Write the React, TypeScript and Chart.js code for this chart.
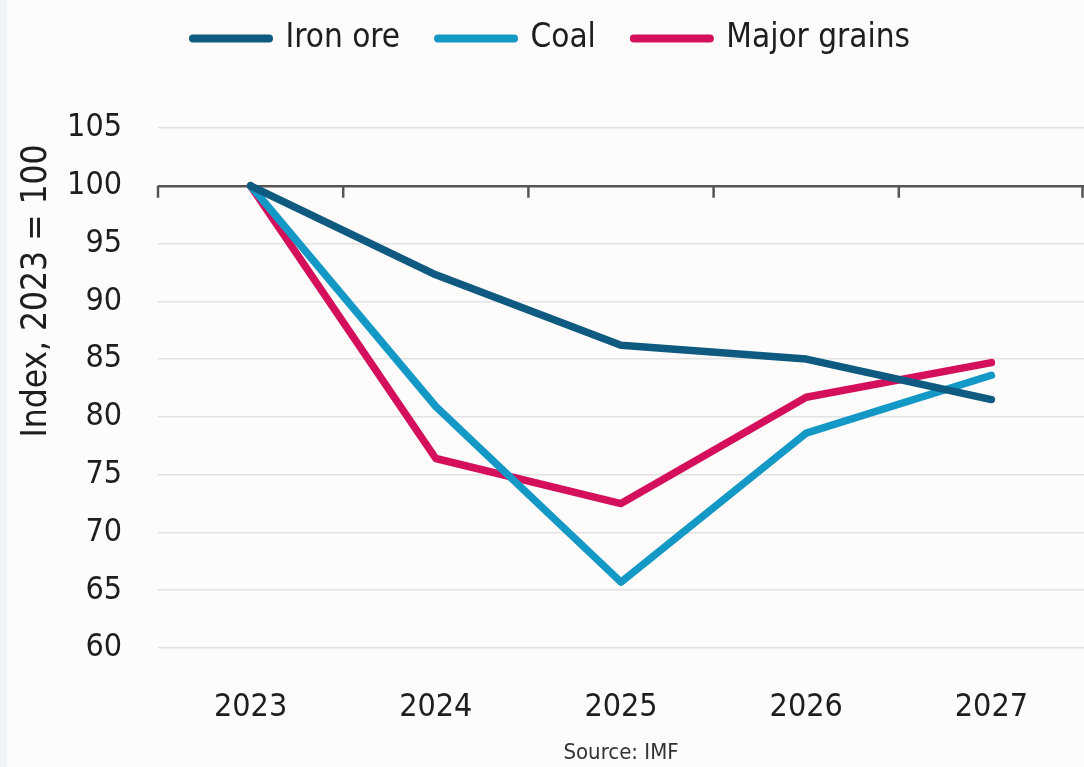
import React, { useEffect, useRef } from "react";
import { Chart, registerables } from "chart.js";

Chart.register(...registerables);

const years = ["2023", "2024", "2025", "2026", "2027"];
const ironOre = [100, 92.3, 86.2, 85.0, 81.5];
const coal = [100, 80.9, 65.7, 78.6, 83.6];
const majorGrains = [100, 76.4, 72.5, 81.7, 84.7];
const seriesNames = ["Iron ore", "Coal", "Major grains"];
const seriesColors = ["#0e5a80", "#1499c6", "#d4105c"];
const yMin = 60;
const yMax = 105;
const yStep = 5;
const baseValue = 100;
const yAxisTitle = "Index, 2023 = 100";
const sourceNote = "Source: IMF";

const FONT = "'Liberation Sans Narrow', 'Arial Narrow', 'DejaVu Sans Condensed', sans-serif";
const TEXT = "#1e1e1e";
const AXIS = "#555555";
const GRID = "#e2e2e2";
const LINE_W = 7.5;

const baselineTicks = {
  id: "baselineTicks",
  beforeDatasetsDraw(chart: any) {
    const xs = chart.scales.x;
    const ys = chart.scales.y;
    const y0 = ys.getPixelForValue(baseValue);
    const ctx = chart.ctx;
    ctx.save();
    ctx.strokeStyle = AXIS;
    ctx.lineWidth = 2.5;
    for (let i = 0; i <= years.length; i++) {
      const px = Math.min(xs.getPixelForValue(i - 0.5), chart.chartArea.right - 1.5);
      ctx.beginPath();
      ctx.moveTo(px, y0);
      ctx.lineTo(px, y0 + 12);
      ctx.stroke();
    }
    ctx.restore();
  },
};

const yTitlePlugin = {
  id: "yTitlePlugin",
  afterDraw(chart: any) {
    const ctx = chart.ctx;
    const ys = chart.scales.y;
    ctx.save();
    ctx.font = `35px ${FONT}`;
    ctx.fillStyle = TEXT;
    ctx.textAlign = "center";
    ctx.textBaseline = "middle";
    ctx.translate(ys.left + 18, (ys.getPixelForValue(yMax) + ys.getPixelForValue(yMin)) / 2 - 97);
    ctx.rotate(-Math.PI / 2);
    ctx.fillText(yAxisTitle, 0, 0);
    ctx.restore();
  },
};

const sourcePlugin = {
  id: "sourcePlugin",
  afterDraw(chart: any) {
    const ctx = chart.ctx;
    const ca = chart.chartArea;
    ctx.save();
    ctx.font = `22px ${FONT}`;
    ctx.fillStyle = "#333";
    ctx.textAlign = "center";
    ctx.textBaseline = "middle";
    ctx.fillText(sourceNote, (ca.left + ca.right) / 2, chart.height - 14);
    ctx.restore();
  },
};

const legendSpacer = {
  id: "legendSpacer",
  beforeInit(chart: any) {
    const orig = chart.legend.fit;
    chart.legend.fit = function () {
      orig.call(this);
      this.height += 63;
    };
  },
};

export default function App() {
  const ref = useRef<HTMLCanvasElement | null>(null);

  useEffect(() => {
    if (!ref.current) return;
    const series = [ironOre, coal, majorGrains];
    const chart = new Chart(ref.current, {
      type: "line",
      data: {
        labels: years,
        datasets: series.map((d, i) => ({
          label: seriesNames[i],
          data: d,
          borderColor: seriesColors[i],
          backgroundColor: seriesColors[i],
          borderWidth: LINE_W,
          pointRadius: 0,
          tension: 0,
          borderCapStyle: "round",
          borderJoinStyle: "round",
        })),
      },
      options: {
        responsive: false,
        animation: false,
        layout: { padding: { top: -16, right: 0, bottom: 29, left: 12 } },
        plugins: {
          legend: {
            position: "top",
            labels: {
              usePointStyle: true,
              pointStyle: "line",
              pointStyleWidth: 76,
              padding: 38,
              color: TEXT,
              font: { family: FONT, size: 33 },
              generateLabels: (c: any) =>
                Chart.defaults.plugins.legend.labels.generateLabels(c).map((it: any, i: number) => ({
                  ...it,
                  lineCap: "round",
                  lineWidth: LINE_W + 0.5,
                  strokeStyle: seriesColors[i],
                  fillStyle: seriesColors[i],
                })),
            },
          },
          tooltip: { enabled: false },
        },
        scales: {
          x: {
            offset: true,
            afterFit: (s: any) => {
              s.height = 90;
            },
            grid: { display: false, drawTicks: false },
            border: { display: false },
            ticks: { padding: 40, color: TEXT, font: { family: FONT, size: 32 } },
          },
          y: {
            min: yMin,
            max: yMax,
            border: { display: false },
            afterFit: (s: any) => {
              s.width = 139;
            },
            grid: {
              drawTicks: false,
              color: (c: any) => (c.tick && c.tick.value === baseValue ? AXIS : GRID),
              lineWidth: (c: any) => (c.tick && c.tick.value === baseValue ? 2.5 : 1.5),
            },
            ticks: { stepSize: yStep, padding: 36, color: TEXT, font: { family: FONT, size: 32 } },
          },
        },
      },
      plugins: [baselineTicks, yTitlePlugin, sourcePlugin, legendSpacer],
    } as any);
    return () => chart.destroy();
  }, []);

  return (
    <div
      style={{
        position: "fixed",
        left: 0,
        top: 0,
        width: 1084,
        height: 767,
        background: "#fdfcfa",
        overflow: "hidden",
      }}
    >
      <div style={{ position: "absolute", left: 0, top: 0, width: 7, height: 767, background: "#f1f4fa" }} />
      <canvas
        ref={ref}
        width={1077}
        height={767}
        style={{ position: "absolute", left: 7, top: 0, display: "block" }}
      />
    </div>
  );
}
